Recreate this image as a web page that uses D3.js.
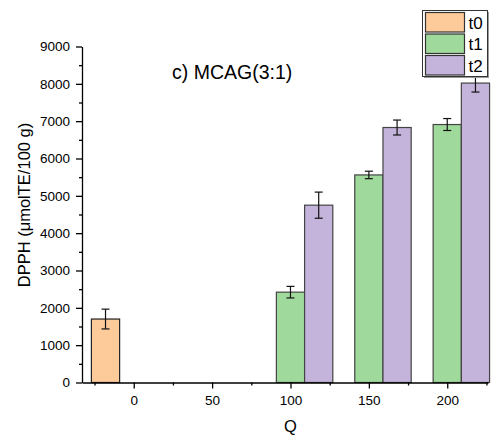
<!DOCTYPE html>
<html><head><meta charset="utf-8">
<script src="https://cdn.jsdelivr.net/npm/d3@7"></script>
<style>body{margin:0;background:#fff}svg{display:block}text{font-family:Arial,"Liberation Sans",sans-serif}</style>
</head><body><svg id="c" width="494" height="439"></svg>
<script>
const series = ["t0","t1","t2"];
const colors = ["#fdca99","#9fd99b","#c4b3da"];
const qT0 = [0];      const valT0 = [1700]; const errT0 = [265];
const qT1 = [100,150,200]; const valT1 = [2420,5560,6910]; const errT1 = [155,100,160];
const qT2 = [100,150,200]; const valT2 = [4750,6830,8020]; const errT2 = [350,200,240];
const xTicks = [0,50,100,150,200];
const yTicks = [0,1000,2000,3000,4000,5000,6000,7000,8000,9000];
const barW = 18;
const offsets = [-18,0,18];

const svg = d3.select("#c");
const x = d3.scaleLinear().domain([-33,226]).range([82,488]);
const y = d3.scaleLinear().domain([0,9000]).range([382.5,46.5]);

const data = [
  qT0.map((q,i)=>({q,v:valT0[i],e:errT0[i],s:0})),
  qT1.map((q,i)=>({q,v:valT1[i],e:errT1[i],s:1})),
  qT2.map((q,i)=>({q,v:valT2[i],e:errT2[i],s:2}))
].flat();

const g = svg.append("g");
g.selectAll("rect.bar").data(data).join("rect")
  .attr("x",d=>x(d.q+offsets[d.s]-barW/2))
  .attr("width",d=>x(d.q+offsets[d.s]+barW/2)-x(d.q+offsets[d.s]-barW/2))
  .attr("y",d=>y(d.v)).attr("height",d=>y(0)-y(d.v))
  .attr("fill",d=>colors[d.s]).attr("stroke",d=>d.s===0?"#222":"#444").attr("stroke-width",1.2);

const eb = g.selectAll("g.eb").data(data).join("g").attr("stroke","#111").attr("stroke-width",1.2);
eb.append("line").attr("x1",d=>x(d.q+offsets[d.s])).attr("x2",d=>x(d.q+offsets[d.s]))
  .attr("y1",d=>y(d.v+d.e)).attr("y2",d=>y(d.v-d.e));
eb.append("line").attr("x1",d=>x(d.q+offsets[d.s])-4).attr("x2",d=>x(d.q+offsets[d.s])+4)
  .attr("y1",d=>y(d.v+d.e)).attr("y2",d=>y(d.v+d.e));
eb.append("line").attr("x1",d=>x(d.q+offsets[d.s])-4).attr("x2",d=>x(d.q+offsets[d.s])+4)
  .attr("y1",d=>y(d.v-d.e)).attr("y2",d=>y(d.v-d.e));

// axes
const fmt = d3.format("d");
const xAxis = svg.append("g").attr("transform",`translate(0,${y(0)})`)
  .call(d3.axisBottom(x).tickValues(xTicks).tickFormat(fmt).tickSize(6).tickSizeOuter(0).tickPadding(7));
const xMinor = svg.append("g").attr("transform",`translate(0,${y(0)})`)
  .call(d3.axisBottom(x).tickValues([-25,25,75,125,175,225]).tickSize(3).tickFormat("").tickSizeOuter(0));
const yAxis = svg.append("g").attr("transform",`translate(${x(-33)},0)`)
  .call(d3.axisLeft(y).tickValues(yTicks).tickFormat(fmt).tickSize(6).tickSizeOuter(0).tickPadding(6));
const yMinor = svg.append("g").attr("transform",`translate(${x(-33)},0)`)
  .call(d3.axisLeft(y).tickValues(d3.range(500,9000,1000)).tickSize(3).tickFormat("").tickSizeOuter(0));
[xAxis,xMinor,yAxis,yMinor].forEach(a=>{a.selectAll("path,line").attr("stroke","#000").attr("stroke-width",1.3);a.selectAll("text").attr("font-size",13.5).attr("fill","#000").attr("font-family","Arial, Liberation Sans, sans-serif");});
xMinor.select("path").remove(); yMinor.select("path").remove();

svg.append("text").attr("x",290.5).attr("y",432).attr("text-anchor","middle").attr("font-size",16.5).text("Q");
svg.append("text").attr("transform","translate(30,205) rotate(-90)").attr("text-anchor","middle").attr("font-size",16.5).text("DPPH (μmolTE/100 g)");
svg.append("text").attr("x",172).attr("y",79).attr("font-size",19.5).text("c) MCAG(3:1)");

// legend
const lg = svg.append("g");
lg.append("rect").attr("x",424).attr("y",12).attr("width",65).attr("height",66).attr("fill","#999");
lg.append("rect").attr("x",422.5).attr("y",10.5).attr("width",65).attr("height",66).attr("fill","#fff").attr("stroke","#333").attr("stroke-width",1);
series.forEach((s,i)=>{
  lg.append("rect").attr("x",425.5).attr("y",12.5+i*21.5).attr("width",39).attr("height",19.5).attr("fill",colors[i]).attr("stroke","#333").attr("stroke-width",1.2);
  lg.append("text").attr("x",468.5).attr("y",28.5+i*21.5).attr("font-size",17).text(s);
});
</script></body></html>
